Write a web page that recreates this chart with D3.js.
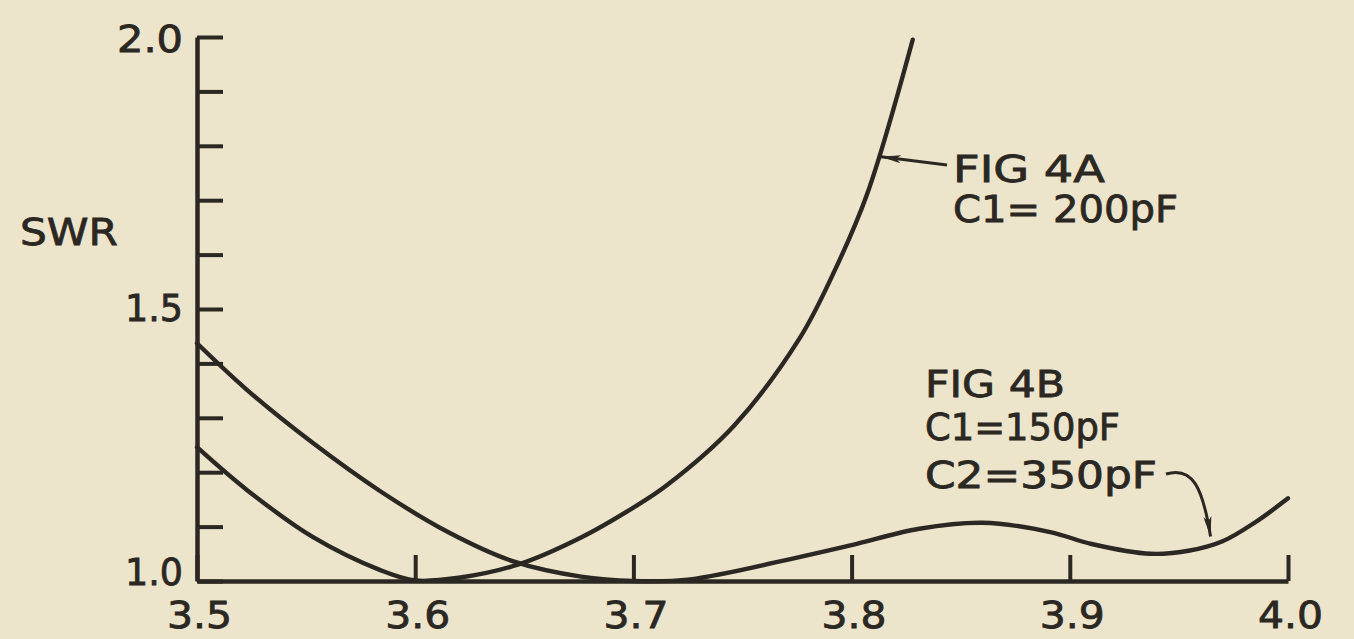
<!DOCTYPE html>
<html>
<head>
<meta charset="utf-8">
<script src="https://cdn.jsdelivr.net/npm/d3@7"></script>
<style>
  html, body { margin: 0; padding: 0; background: #ede5cb; }
  svg { display: block; }
  text { font-family: "DejaVu Sans", sans-serif; fill: #2b2722; stroke: #2b2722; stroke-width: 0.8px; }
</style>
</head>
<body>
<svg id="chart" width="1354" height="639"></svg>
<script>
// ---- data ----
const xTicks = [3.5, 3.6, 3.7, 3.8, 3.9, 4.0];
const xTickLabels = ["3.5", "3.6", "3.7", "3.8", "3.9", "4.0"];
const yTicks = [1.0, 1.1, 1.2, 1.3, 1.4, 1.5, 1.6, 1.7, 1.8, 1.9, 2.0];
const yLabeled = [1.0, 1.5, 2.0];
const yTickLabels = ["1.0", "1.5", "2.0"];
const yTitle = "SWR";

// FIG 4A (C1 = 200 pF)
const fig4aFreq = [3.500, 3.523, 3.553, 3.584, 3.600, 3.620, 3.647, 3.676, 3.700, 3.715, 3.746, 3.776, 3.791, 3.807, 3.828];
const fig4aSwr  = [1.246, 1.167, 1.081, 1.020, 1.001, 1.006, 1.030, 1.080, 1.135, 1.175, 1.285, 1.445, 1.560, 1.710, 1.995];

// FIG 4B (C1 = 150 pF, C2 = 350 pF)
const fig4bFreq = [3.500, 3.523, 3.553, 3.584, 3.615, 3.645, 3.676, 3.700, 3.726, 3.776, 3.800, 3.831, 3.860, 3.891, 3.910, 3.937, 3.955, 3.970, 3.985, 4.000];
const fig4bSwr  = [1.437, 1.351, 1.254, 1.165, 1.090, 1.036, 1.008, 1.000, 1.003, 1.044, 1.066, 1.096, 1.107, 1.090, 1.068, 1.050, 1.056, 1.073, 1.108, 1.152];

const label4a = ["FIG 4A", "C1= 200pF"];
const label4b = ["FIG 4B", "C1=150pF", "C2=350pF"];
const arrow4aTarget = [3.8135, 1.78];
const arrow4bTarget = [3.9645, 1.082];

// ---- drawing ----
const ink = "#2b2722";
const svg = d3.select("#chart");
const x = d3.scaleLinear().domain([3.5, 4.0]).range([197, 1288]);
const y = d3.scaleLinear().domain([1.0, 2.0]).range([581, 37]);

const defs = svg.append("defs");
defs.append("marker")
  .attr("id", "arrow")
  .attr("viewBox", "0 0 20 10")
  .attr("refX", 20).attr("refY", 5)
  .attr("markerWidth", 20).attr("markerHeight", 10)
  .attr("markerUnits", "userSpaceOnUse")
  .attr("orient", "auto")
  .append("path")
  .attr("d", "M0,1 L20,5 L0,9 L5,5 Z")
  .attr("fill", ink);

// Y axis
const yAxis = d3.axisLeft(y)
  .tickValues(yTicks)
  .tickSizeInner(-26)
  .tickSizeOuter(0)
  .tickPadding(14)
  .tickFormat(d => {
    const i = yLabeled.findIndex(v => Math.abs(v - d) < 1e-9);
    return i >= 0 ? yTickLabels[i] : "";
  });
const gy = svg.append("g").attr("transform", `translate(${x(3.5)},0)`).call(yAxis);
gy.select(".domain").attr("stroke", ink).attr("stroke-width", 4.5);
gy.selectAll(".tick line").attr("stroke", ink).attr("stroke-width", 4);
gy.selectAll(".tick text")
  .attr("font-size", 37)
  .attr("fill", ink)
  .attr("textLength", d => Math.abs(d - 2.0) < 1e-9 ? 66 : 58)
  .attr("lengthAdjust", "spacingAndGlyphs")
  .attr("dy", d => Math.abs(d - 1.0) < 1e-9 ? "0.1em" : (Math.abs(d - 2.0) < 1e-9 ? "0.4em" : "0.32em"));

// X axis
const xAxis = d3.axisBottom(x)
  .tickValues(xTicks)
  .tickSizeInner(-26)
  .tickSizeOuter(0)
  .tickPadding(21)
  .tickFormat((d, i) => xTickLabels[i]);
const gx = svg.append("g").attr("transform", `translate(0,${y(1.0)})`).call(xAxis);
gx.select(".domain").attr("stroke", ink).attr("stroke-width", 4.5);
gx.selectAll(".tick line").attr("stroke", ink).attr("stroke-width", 4);
gx.selectAll(".tick text")
  .attr("font-size", 37)
  .attr("textLength", 65)
  .attr("lengthAdjust", "spacingAndGlyphs")
  .attr("dx", 2)
  .attr("fill", ink);

// Y title
svg.append("text")
  .attr("x", 20).attr("y", 245)
  .attr("font-size", 38)
  .attr("textLength", 98)
  .attr("lengthAdjust", "spacingAndGlyphs")
  .text(yTitle);

// Curves
const line = d3.line()
  .x(d => x(d[0]))
  .y(d => y(d[1]))
  .curve(d3.curveCatmullRom.alpha(0.5));

const seriesA = fig4aFreq.map((f, i) => [f, fig4aSwr[i]]);
const seriesB = fig4bFreq.map((f, i) => [f, fig4bSwr[i]]);

svg.append("path").datum(seriesA).attr("d", line)
  .attr("fill", "none").attr("stroke", ink).attr("stroke-width", 4.4)
  .attr("stroke-linecap", "round");
svg.append("path").datum(seriesB).attr("d", line)
  .attr("fill", "none").attr("stroke", ink).attr("stroke-width", 4.4)
  .attr("stroke-linecap", "round");

// Annotation 4A
const ta = svg.append("text").attr("font-size", 37);
ta.append("tspan").attr("x", 953).attr("y", 182).attr("textLength", 152).attr("lengthAdjust", "spacingAndGlyphs").text(label4a[0]);
ta.append("tspan").attr("x", 953).attr("y", 222).attr("textLength", 225).attr("lengthAdjust", "spacingAndGlyphs").text(label4a[1]);

const ax = x(arrow4aTarget[0]), ay = y(arrow4aTarget[1]);
svg.append("path")
  .attr("d", `M947,165 L${ax},${ay}`)
  .attr("stroke", ink).attr("stroke-width", 3)
  .attr("fill", "none").attr("marker-end", "url(#arrow)");

// Annotation 4B
const tb = svg.append("text").attr("font-size", 37);
tb.append("tspan").attr("x", 925).attr("y", 397).attr("textLength", 140).attr("lengthAdjust", "spacingAndGlyphs").text(label4b[0]);
tb.append("tspan").attr("x", 925).attr("y", 440).attr("textLength", 195).attr("lengthAdjust", "spacingAndGlyphs").text(label4b[1]);
tb.append("tspan").attr("x", 925).attr("y", 488).attr("textLength", 232).attr("lengthAdjust", "spacingAndGlyphs").text(label4b[2]);

const bx = x(arrow4bTarget[0]), by = y(arrow4bTarget[1]);
svg.append("path")
  .attr("d", `M1166,474 C1192,466 ${bx - 8},${by - 50} ${bx},${by}`)
  .attr("stroke", ink).attr("stroke-width", 3)
  .attr("fill", "none").attr("marker-end", "url(#arrow)");
</script>
</body>
</html>
